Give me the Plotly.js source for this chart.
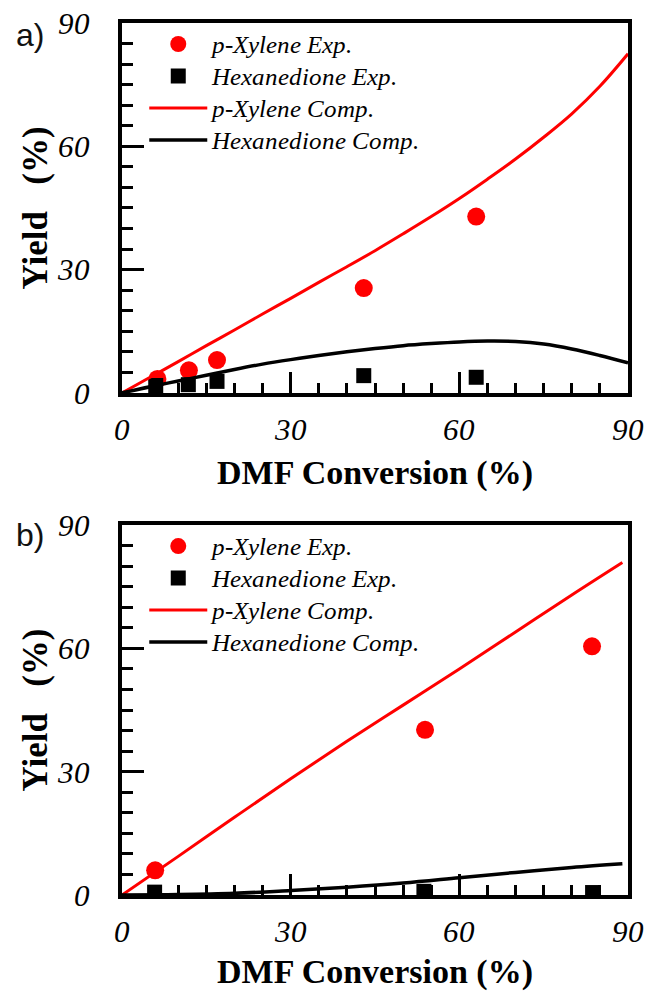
<!DOCTYPE html>
<html>
<head>
<meta charset="utf-8">
<script src="https://cdn.plot.ly/plotly-3.0.1.min.js"></script>
<style>
  html, body { margin: 0; padding: 0; background: #fff; }
  #chart { width: 648px; height: 991px; }
  /* Times-style italic: the true italic face when present, otherwise a slanted regular face */
  @font-face { font-family: 'TimesItal'; src: local('Liberation Serif Italic'), local('LiberationSerif-Italic'); font-style: italic; font-weight: 400; }
  @font-face { font-family: 'TimesSlant'; src: local('Liberation Serif'), local('LiberationSerif'); font-style: normal; font-weight: 400; }
</style>
</head>
<body>
<div id="chart"></div>
<script>
// Panel a) experimental yields vs DMF conversion
const aExpConv   = [6.3, 11.9, 16.9, 43.0, 63.0];
const aXyleneExp = [3.4, 5.5, 8.0, 25.5, 42.9];
const aHexConv   = [6.0, 11.8, 16.9, 43.0, 63.0];
const aHexExp    = [1.8, 2.0, 2.8, 4.2, 3.8];

// Panel a) computed curves
const aCompConv   = [0, 5, 10, 15, 20, 25, 30, 35, 40, 45, 50, 55, 60, 65, 70, 75, 80, 85, 90];
const aXyleneComp = [0, 3.8, 7.6, 11.5, 15.3, 19.2, 23.0, 26.9, 30.7, 34.6, 38.7, 42.9, 47.3, 52.0, 56.9, 62.2, 67.9, 74.6, 82.5];
const aHexComp    = [0, 1.5, 2.9, 4.3, 5.7, 7.0, 8.1, 9.1, 10.0, 10.8, 11.5, 12.0, 12.4, 12.6, 12.5, 11.9, 10.7, 9.1, 7.3];

// Panel b) experimental yields
const bExpConv   = [5.9, 53.9, 83.6];
const bXyleneExp = [6.0, 40.2, 60.5];
const bHexConv   = [5.8, 53.7, 83.7];
const bHexExp    = [0.7, 0.9, 0.6];

// Panel b) computed curves
const bCompConv   = [0, 10, 20, 30, 40, 50, 60, 70, 80, 89];
const bXyleneComp = [0, 9.4, 18.9, 28.3, 37.4, 46.2, 55.0, 64.0, 73.0, 80.9];
const bHexComp    = [0, 0.1, 0.4, 1.1, 1.9, 2.9, 4.2, 5.5, 6.7, 7.6];

const tickVals = [0, 30, 60, 90];
const names = ['p-Xylene Exp.', 'Hexanedione Exp.', 'p-Xylene Comp.', 'Hexanedione Comp.'];

const RED = '#ff0000';
const BLACK = '#000000';
const ITALIC = 'TimesItal, TimesSlant, DejaVu Serif';
const SERIF = 'Liberation Serif';
const SANS = 'Liberation Sans';

// legend rows are spaced from the legend font size; the label itself is drawn larger
const label = s => '<span style="font-size:25px">' + s + '</span>';

function panelTraces(xa, ya, leg, expX, xylExp, hexX, hexExp, compX, xylComp, hexComp) {
  return [
    {x: expX, y: xylExp, xaxis: xa, yaxis: ya, legend: leg, name: label(names[0]), type: 'scatter', mode: 'markers',
     marker: {symbol: 'circle', size: 18, color: RED}},
    {x: hexX, y: hexExp, xaxis: xa, yaxis: ya, legend: leg, name: label(names[1]), type: 'scatter', mode: 'markers',
     marker: {symbol: 'square', size: 15, color: BLACK}},
    {x: compX, y: xylComp, xaxis: xa, yaxis: ya, legend: leg, name: label(names[2]), type: 'scatter', mode: 'lines',
     line: {color: RED, width: 3, shape: 'spline', smoothing: 1}},
    {x: compX, y: hexComp, xaxis: xa, yaxis: ya, legend: leg, name: label(names[3]), type: 'scatter', mode: 'lines',
     line: {color: BLACK, width: 3.5, shape: 'spline', smoothing: 1}}
  ];
}

const data = [].concat(
  panelTraces('x', 'y', 'legend', aExpConv, aXyleneExp, aHexConv, aHexExp, aCompConv, aXyleneComp, aHexComp),
  panelTraces('x2', 'y2', 'legend2', bExpConv, bXyleneExp, bHexConv, bHexExp, bCompConv, bXyleneComp, bHexComp)
);

const tickFont = {family: ITALIC, size: 31, style: 'italic', color: BLACK};

function xAxis(anchor) {
  return {
    anchor: anchor, domain: [0, 1], range: [0, 90],
    tickmode: 'array', tickvals: tickVals, ticktext: tickVals.map(String),
    ticks: 'inside', ticklen: 21, tickwidth: 3, tickcolor: BLACK,
    minor: {dtick: 5, tick0: 0, ticks: 'inside', ticklen: 10, tickwidth: 3, tickcolor: BLACK, showgrid: false},
    showline: true, linewidth: 4, linecolor: BLACK, mirror: true,
    showgrid: false, zeroline: false,
    tickfont: tickFont, ticklabelstandoff: 6,
    title: {text: 'DMF Conversion (%)', font: {family: SERIF, size: 34, weight: 'bold', color: BLACK}, standoff: 15}
  };
}

function yAxis(anchor, dom) {
  return {
    anchor: anchor, domain: dom, range: [0, 90],
    tickmode: 'array', tickvals: tickVals, ticktext: tickVals.map(String),
    ticks: 'inside', ticklen: 22, tickwidth: 3, tickcolor: BLACK,
    minor: {dtick: 5, tick0: 0, ticks: 'inside', ticklen: 11, tickwidth: 3, tickcolor: BLACK, showgrid: false},
    showline: true, linewidth: 4, linecolor: BLACK, mirror: true,
    showgrid: false, zeroline: false,
    tickfont: tickFont, ticklabelstandoff: 22,
    title: {text: 'Yield\u00A0\u00A0\u00A0(%)', font: {family: SERIF, size: 35, weight: 'bold', color: BLACK}, standoff: 0}
  };
}

function legendBox(y) {
  return {
    x: 0.044, y: y, xanchor: 'left', yanchor: 'top',
    bgcolor: 'rgba(0,0,0,0)', borderwidth: 0,
    font: {family: ITALIC, size: 22.3, style: 'italic', color: BLACK},
    itemwidth: 58, itemsizing: 'trace', tracegroupgap: 0
  };
}

const layout = {
  width: 648, height: 991,
  margin: {l: 122, r: 20, t: 23.4, b: 96.4, pad: 0},
  paper_bgcolor: '#ffffff', plot_bgcolor: '#ffffff',
  font: {family: SERIF, color: BLACK},
  showlegend: true,
  xaxis: xAxis('y'),
  yaxis: yAxis('x', [0.5758, 1]),
  xaxis2: xAxis('y2'),
  yaxis2: yAxis('x2', [0, 0.4242]),
  legend: legendBox(1),
  legend2: legendBox(0.4242),
  annotations: [
    {text: 'a)', xref: 'paper', yref: 'paper', x: -0.1818, y: 0.9867, xanchor: 'center', yanchor: 'middle',
     showarrow: false, font: {family: SANS, size: 32, color: '#111'}},
    {text: 'b)', xref: 'paper', yref: 'paper', x: -0.1818, y: 0.4128, xanchor: 'center', yanchor: 'middle',
     showarrow: false, font: {family: SANS, size: 32, color: '#111'}}
  ]
};

function draw() {
  Plotly.newPlot('chart', data, layout, {displayModeBar: false, staticPlot: true});
}

// make sure the local faces are ready before Plotly measures any text
Promise.all([
  document.fonts.load('italic 25px TimesItal'),
  document.fonts.load('25px TimesSlant'),
  document.fonts.load('italic 25px TimesSlant')
]).catch(() => null).then(draw, draw);
</script>
</body>
</html>
